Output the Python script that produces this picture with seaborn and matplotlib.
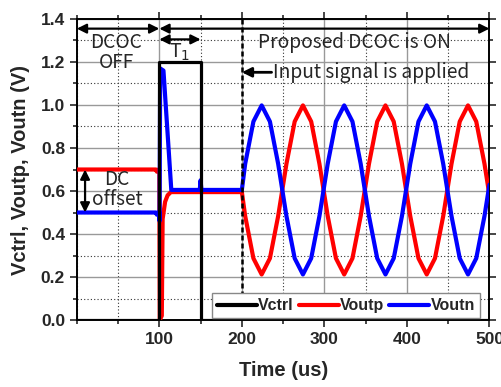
import matplotlib
matplotlib.use('Agg')
import matplotlib.pyplot as plt
from matplotlib.ticker import MultipleLocator
import seaborn as sns
import pandas as pd

# Vctrl (black) control pulse
vctrl_t = [0, 100, 100, 150, 150, 500]
vctrl_v = [0.0, 0.0, 1.2, 1.2, 0.0, 0.0]

# sampled time points of the sine region (shared by Voutp / Voutn)
sine_t = [200, 204, 214, 224, 234, 244, 254, 264, 274, 284, 294,
          304, 314, 324, 334, 344, 354, 364, 374, 384, 394,
          404, 414, 424, 434, 444, 454, 464, 474, 484, 494, 500]

# Voutp (red)
voutp_t = [0, 96, 97, 99, 100, 100.5, 103, 104, 107, 110, 114] + sine_t
voutp_v = [0.70, 0.70, 0.69, 0.70, 0.70, 0.0, 0.02, 0.47, 0.55, 0.58, 0.595,
           0.595, 0.484, 0.287, 0.212, 0.287, 0.484, 0.726, 0.923, 0.998, 0.923, 0.726,
           0.484, 0.287, 0.212, 0.287, 0.484, 0.726, 0.923, 0.998, 0.923, 0.726,
           0.484, 0.287, 0.212, 0.287, 0.484, 0.726, 0.923, 0.998, 0.923, 0.726, 0.58]

# Voutn (blue)
voutn_t = [0, 96, 97, 99, 100, 100.3, 101, 105, 114.5, 149, 150, 151] + sine_t
voutn_v = [0.50, 0.50, 0.49, 0.50, 0.50, 0.46, 1.17, 1.16, 0.605, 0.605, 0.65, 0.605,
           0.605, 0.726, 0.923, 0.998, 0.923, 0.726, 0.484, 0.287, 0.212, 0.287, 0.484,
           0.726, 0.923, 0.998, 0.923, 0.726, 0.484, 0.287, 0.212, 0.287, 0.484,
           0.726, 0.923, 0.998, 0.923, 0.726, 0.484, 0.287, 0.212, 0.287, 0.484, 0.63]

signals = ['Vctrl', 'Voutp', 'Voutn']
colors = ['black', '#ff0000', '#0000ff']

df = pd.DataFrame({
    'Time': vctrl_t + voutp_t + voutn_t,
    'V': vctrl_v + voutp_v + voutn_v,
    'Signal': ['Vctrl'] * len(vctrl_t) + ['Voutp'] * len(voutp_t) + ['Voutn'] * len(voutn_t),
})

sns.set_style('ticks')
plt.rcParams['font.family'] = ['Liberation Sans', 'DejaVu Sans']
ann_font = ['Noto Sans CJK KR', 'DejaVu Sans']
ann_size = 13.8

fig = plt.figure(figsize=(5.02, 3.87), dpi=100)
ax = fig.add_axes([0.153, 0.173, 0.822, 0.778])

sns.lineplot(data=df, x='Time', y='V', hue='Signal', hue_order=signals,
             palette=dict(zip(signals, colors)), sort=False, estimator=None,
             linewidth=3, ax=ax)
lines = ax.get_lines()
lines[0].set_linewidth(2.3)
lines[0].set_zorder(4)
lines[1].set_zorder(3)
lines[2].set_zorder(3.5)

ax.set_xlim(0, 500)
ax.set_ylim(0, 1.4)
ax.set_xticks([100, 200, 300, 400, 500])
ax.xaxis.set_minor_locator(MultipleLocator(50))
ax.set_yticks([0.0, 0.2, 0.4, 0.6, 0.8, 1.0, 1.2, 1.4])
ax.set_yticklabels(['0.0', '0.2', '0.4', '0.6', '0.8', '1.0', '1.2', '1.4'])
ax.yaxis.set_minor_locator(MultipleLocator(0.1))
ax.grid(which='major', color='#999999', linewidth=1.0, linestyle='-')
ax.grid(which='minor', color='#333333', linewidth=0.8, linestyle=(0, (1, 2)))
ax.set_axisbelow(True)

for s in ax.spines.values():
    s.set_linewidth(1.4)
    s.set_color('black')
ax.tick_params(which='both', top=True, right=True, width=1.2)
ax.tick_params(which='major', length=5)
ax.tick_params(which='minor', length=3)
ax.tick_params(axis='x', which='both', direction='out')
ax.tick_params(axis='y', which='both', direction='out')
for lab in ax.get_xticklabels() + ax.get_yticklabels():
    lab.set_fontweight('bold')
    lab.set_fontsize(12.5)

ax.set_xlabel('Time (us)', fontsize=14.5, fontweight='bold', labelpad=10)
ax.set_ylabel('Vctrl, Voutp, Voutn (V)', fontsize=14.5, fontweight='bold', labelpad=8)

# dashed marker at signal start
ax.plot([200, 200], [0, 1.4], color='black', linewidth=1.8,
        linestyle=(0, (2, 1.2)), zorder=4)

arrow_kw = dict(arrowstyle='<|-|>', color='black', lw=1.6, mutation_scale=14,
                shrinkA=0, shrinkB=0)
ax.annotate('', xy=(0, 1.355), xytext=(100, 1.355), arrowprops=arrow_kw, zorder=5)
ax.annotate('', xy=(100, 1.355), xytext=(500, 1.355), arrowprops=arrow_kw, zorder=5)
ax.annotate('', xy=(100, 1.305), xytext=(150, 1.305), arrowprops=arrow_kw, zorder=5)
ax.annotate('', xy=(10, 0.70), xytext=(10, 0.50), arrowprops=arrow_kw, zorder=5)
ax.annotate('', xy=(200, 1.152), xytext=(236, 1.152),
            arrowprops=dict(arrowstyle='-|>', color='black', lw=2, mutation_scale=14,
                            shrinkA=0, shrinkB=0), zorder=5)

ax.text(48, 1.245, 'DCOC\nOFF', ha='center', va='center', fontsize=ann_size,
        family=ann_font, fontweight='medium', linespacing=0.95)
ax.text(125, 1.245, 'T$_1$', ha='center', va='center', fontsize=14, family=ann_font)
ax.text(337, 1.29, 'Proposed DCOC is ON', ha='center', va='center', fontsize=ann_size,
        family=ann_font, fontweight='medium')
ax.text(238, 1.152, 'Input signal is applied', ha='left', va='center', fontsize=ann_size,
        family=ann_font, fontweight='medium')
ax.text(49, 0.607, 'DC\noffset', ha='center', va='center', fontsize=ann_size,
        family=ann_font, fontweight='medium', linespacing=0.95)

leg = ax.legend(loc='lower right', bbox_to_anchor=(0.977, 0.007), ncol=3,
                frameon=True, fancybox=False, edgecolor='#888888', framealpha=1,
                borderaxespad=0, handlelength=2.5, handletextpad=0.1,
                columnspacing=0.3, borderpad=0.3,
                prop={'weight': 'bold', 'size': 11.5})
leg.get_frame().set_linewidth(1.0)
leg.set_zorder(10)
for h in leg.get_lines():
    h.set_linewidth(3)

fig.savefig('out.png', dpi=100)
